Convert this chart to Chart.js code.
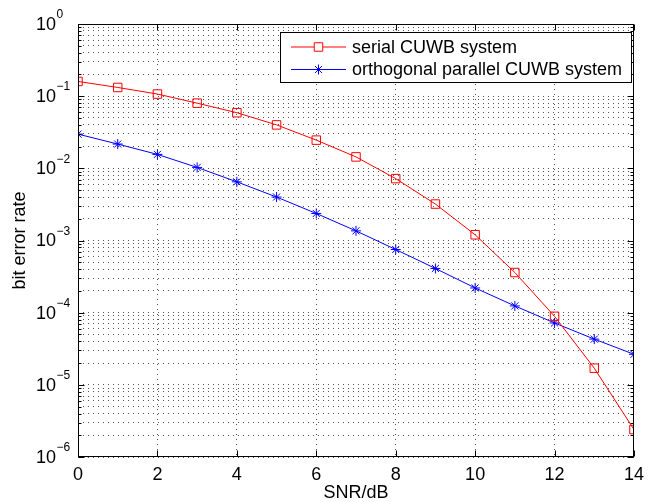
<!DOCTYPE html>
<html>
<head>
<meta charset="utf-8">
<script src="https://cdn.jsdelivr.net/npm/chart.js"></script>
<style>
  html, body { margin: 0; padding: 0; background: #fff; }
</style>
</head>
<body>
<canvas id="chart" width="651" height="502"></canvas>
<script>
// SNR values (dB) on the x axis
const snr = [0, 1, 2, 3, 4, 5, 6, 7, 8, 9, 10, 11, 12, 13, 14];
// bit error rate
const serialBer = [0.16, 0.132, 0.107, 0.080, 0.059, 0.040, 0.0246, 0.0144, 0.0072, 0.0032, 0.0012, 3.6e-4, 8.9e-5, 1.7e-5, 2.4e-6];
const parallelBer = [0.0298, 0.0217, 0.0156, 0.0103, 0.0065, 0.0040, 0.00237, 0.00136, 7.5e-4, 4.1e-4, 2.2e-4, 1.24e-4, 7.2e-5, 4.3e-5, 2.65e-5];
const seriesLabels = ['serial CUWB system', 'orthogonal parallel CUWB system'];
// decade exponents shown on the y axis
const yExponents = [0, -1, -2, -3, -4, -5, -6];
const xTicks = [0, 2, 4, 6, 8, 10, 12, 14];

const FONT = "'Liberation Sans', Arial, Helvetica, sans-serif";

function toPoints(ys) {
    return snr.map((x, i) => ({ x: x, y: ys[i] }));
}

// MATLAB-like box, inward ticks, y labels with superscripts, legend
const matlabAxes = {
    id: 'matlabAxes',
    afterDraw(chart) {
        const ctx = chart.ctx;
        const area = chart.chartArea;
        const xs = chart.scales.x;
        const ys = chart.scales.y;
        const L = Math.round(area.left) + 0.5;
        const R = Math.round(area.right) - 0.5;
        const T = Math.round(area.top) + 0.5;
        const B = Math.round(area.bottom) - 0.5;

        ctx.save();
        ctx.strokeStyle = '#000';
        ctx.lineWidth = 1;
        ctx.setLineDash([]);
        ctx.beginPath();
        // x ticks, bottom and top
        xs.ticks.forEach(t => {
            const px = Math.round(xs.getPixelForValue(t.value)) + 0.5;
            ctx.moveTo(px, B); ctx.lineTo(px, B - 6);
            ctx.moveTo(px, T); ctx.lineTo(px, T + 6);
        });
        // y ticks, left and right
        ys.ticks.forEach(t => {
            const py = Math.round(ys.getPixelForValue(t.value)) + 0.5;
            const len = t.major ? 6 : 3;
            ctx.moveTo(L, py); ctx.lineTo(L + len, py);
            ctx.moveTo(R, py); ctx.lineTo(R - len, py);
        });
        ctx.stroke();
        ctx.strokeRect(L, T, R - L, B - T);

        // y tick labels: 10 with raised exponent
        ctx.fillStyle = '#000';
        ctx.textBaseline = 'middle';
        yExponents.forEach(e => {
            const py = ys.getPixelForValue(Math.pow(10, e));
            ctx.font = '18px ' + FONT;
            ctx.textAlign = 'right';
            ctx.fillText('10', 56, py + 1);
            ctx.font = '12px ' + FONT;
            ctx.textAlign = 'left';
            ctx.fillText(e < 0 ? '\u2212' + (-e) : String(e), 56.5, py - 9);
        });

        // legend
        const lx = 280.5, ly = 32.5, lw = 351, lh = 50;
        ctx.fillStyle = '#fff';
        ctx.fillRect(lx, ly, lw, lh);
        ctx.strokeStyle = '#000';
        ctx.strokeRect(lx, ly, lw, lh);
        chart.data.datasets.forEach((ds, i) => {
            const cy = 47 + i * 22.5;
            ctx.strokeStyle = ds.borderColor;
            ctx.lineWidth = 1;
            ctx.beginPath();
            ctx.moveTo(291, cy); ctx.lineTo(346, cy);
            ctx.stroke();
            Chart.helpers.drawPoint(ctx, {
                pointStyle: ds.pointStyle,
                radius: ds.pointRadius,
                borderWidth: 1,
                rotation: 0
            }, 318.5, cy);
            ctx.fillStyle = '#000';
            ctx.font = '18px ' + FONT;
            ctx.textAlign = 'left';
            ctx.textBaseline = 'middle';
            ctx.fillText(ds.label, 352, cy + 1);
        });
        ctx.restore();
    }
};

const ctxEl = document.getElementById('chart').getContext('2d');
new Chart(ctxEl, {
    type: 'line',
    data: {
        datasets: [{
            label: seriesLabels[0],
            data: toPoints(serialBer),
            borderColor: '#ff0000',
            backgroundColor: 'rgba(0,0,0,0)',
            borderWidth: 1,
            pointStyle: 'rect',
            pointRadius: 6,
            pointBorderWidth: 1,
            pointBorderColor: '#ff0000',
            pointBackgroundColor: 'rgba(0,0,0,0)',
            tension: 0
        }, {
            label: seriesLabels[1],
            data: toPoints(parallelBer),
            borderColor: '#0000ff',
            backgroundColor: 'rgba(0,0,0,0)',
            borderWidth: 1,
            pointStyle: 'star',
            pointRadius: 5,
            pointBorderWidth: 1,
            pointBorderColor: '#0000ff',
            pointBackgroundColor: 'rgba(0,0,0,0)',
            tension: 0
        }]
    },
    options: {
        responsive: false,
        animation: false,
        devicePixelRatio: 1,
        layout: { padding: { top: 24, right: 10, left: 0, bottom: 0 } },
        plugins: {
            legend: { display: false },
            tooltip: { enabled: false }
        },
        scales: {
            x: {
                type: 'linear',
                min: 0,
                max: 14,
                afterBuildTicks: scale => {
                    scale.ticks = xTicks.map(v => ({ value: v }));
                },
                afterFit: scale => { scale.height = 45; },
                ticks: {
                    color: '#000',
                    font: { family: FONT, size: 18 },
                    padding: 7,
                    maxRotation: 0,
                    autoSkip: false
                },
                grid: {
                    color: '#555',
                    lineWidth: 1,
                    drawTicks: false
                },
                border: { display: false, dash: [1, 4] },
                title: {
                    display: true,
                    text: 'SNR/dB',
                    color: '#000',
                    font: { family: FONT, size: 18, lineHeight: 1 },
                    padding: 0
                }
            },
            y: {
                type: 'logarithmic',
                min: 1e-6,
                max: 1,
                afterBuildTicks: scale => {
                    const t = [];
                    for (let e = -6; e <= 0; e++) {
                        for (let m = 1; m <= 9; m++) {
                            const v = m * Math.pow(10, e);
                            if (v > 1) break;
                            t.push({ value: v, major: m === 1 });
                        }
                    }
                    scale.ticks = t;
                },
                afterFit: scale => { scale.width = 78; },
                ticks: {
                    display: false,
                    autoSkip: false
                },
                grid: {
                    color: '#555',
                    lineWidth: 1,
                    drawTicks: false
                },
                border: { display: false, dash: [1, 4] },
                title: {
                    display: true,
                    text: 'bit error rate',
                    color: '#000',
                    font: { family: FONT, size: 18, lineHeight: 1 },
                    padding: { top: 11, bottom: 0 }
                }
            }
        }
    },
    plugins: [matlabAxes]
});
</script>
</body>
</html>
